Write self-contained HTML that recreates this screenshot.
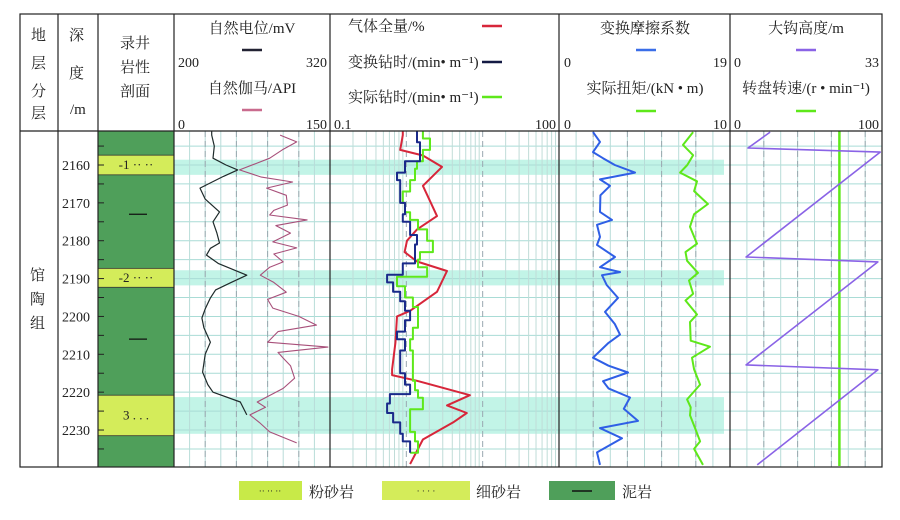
<!DOCTYPE html>
<html><head><meta charset="utf-8">
<style>
html,body{margin:0;padding:0;background:#fff;}
body{width:900px;height:515px;overflow:hidden;font-family:"Liberation Serif","Noto Serif CJK SC","Noto Sans CJK SC",serif;}
svg text{font-family:"Liberation Serif","Noto Serif CJK SC","Noto Sans CJK SC",serif;fill:#222;}
</style></head>
<body>
<svg id="chart" width="900" height="515" xmlns="http://www.w3.org/2000/svg">
<g id="bg"></g>
<g id="grid"></g>
<g id="curves"></g>
<g id="frame" stroke="#222" stroke-width="1.2" fill="none">
  <rect x="20" y="14" width="862" height="453"/>
  <line x1="20" y1="131" x2="882" y2="131"/>
  <line x1="58" y1="14" x2="58" y2="467"/>
  <line x1="98" y1="14" x2="98" y2="467"/>
  <line x1="174" y1="14" x2="174" y2="467"/>
  <line x1="330" y1="14" x2="330" y2="467"/>
  <line x1="559" y1="14" x2="559" y2="467"/>
  <line x1="730" y1="14" x2="730" y2="467"/>
</g>
<g id="header" font-size="15">
  <g><text x="31" y="40">地</text><text x="31" y="68">层</text><text x="31" y="96">分</text><text x="31" y="118">层</text></g>
  <g><text x="69" y="40">深</text><text x="69" y="78">度</text><text x="70" y="114">/m</text></g>
  <g><text x="120" y="48">录井</text><text x="120" y="72">岩性</text><text x="120" y="96">剖面</text></g>
  <g>
    <text x="252" y="33" text-anchor="middle">自然电位/mV</text>
    <line x1="242" y1="50" x2="262" y2="50" stroke="#223" stroke-width="2.5"/>
    <text x="178" y="67" font-size="14">200</text><text x="327" y="67" font-size="14" text-anchor="end">320</text>
    <text x="252" y="93" text-anchor="middle">自然伽马/API</text>
    <line x1="242" y1="110" x2="262" y2="110" stroke="#c96b8e" stroke-width="2.5"/>
    <text x="178" y="129" font-size="14">0</text><text x="327" y="129" font-size="14" text-anchor="end">150</text>
  </g>
  <g>
    <text x="348" y="31">气体全量/%</text>
    <line x1="482" y1="26" x2="502" y2="26" stroke="#d7263a" stroke-width="2.5"/>
    <text x="348" y="67">变换钻时/(min• m⁻¹)</text>
    <line x1="482" y1="62" x2="502" y2="62" stroke="#141a44" stroke-width="2.5"/>
    <text x="348" y="102">实际钻时/(min• m⁻¹)</text>
    <line x1="482" y1="97" x2="502" y2="97" stroke="#5ee81a" stroke-width="2.5"/>
    <text x="334" y="129" font-size="14">0.1</text><text x="556" y="129" font-size="14" text-anchor="end">100</text>
  </g>
  <g>
    <text x="645" y="33" text-anchor="middle">变换摩擦系数</text>
    <line x1="636" y1="50" x2="656" y2="50" stroke="#3a6ee8" stroke-width="2.5"/>
    <text x="564" y="67" font-size="14">0</text><text x="727" y="67" font-size="14" text-anchor="end">19</text>
    <text x="645" y="93" text-anchor="middle">实际扭矩/(kN • m)</text>
    <line x1="636" y1="111" x2="656" y2="111" stroke="#5ee81a" stroke-width="2.5"/>
    <text x="564" y="129" font-size="14">0</text><text x="727" y="129" font-size="14" text-anchor="end">10</text>
  </g>
  <g>
    <text x="806" y="33" text-anchor="middle">大钩高度/m</text>
    <line x1="796" y1="50" x2="816" y2="50" stroke="#8a63e6" stroke-width="2.5"/>
    <text x="734" y="67" font-size="14">0</text><text x="879" y="67" font-size="14" text-anchor="end">33</text>
    <text x="806" y="93" text-anchor="middle">转盘转速/(r • min⁻¹)</text>
    <line x1="796" y1="111" x2="816" y2="111" stroke="#5ee81a" stroke-width="2.5"/>
    <text x="734" y="129" font-size="14">0</text><text x="879" y="129" font-size="14" text-anchor="end">100</text>
  </g>
</g>
<g font-size="15"><text x="30" y="280">馆</text><text x="30" y="304">陶</text><text x="30" y="328">组</text></g>
<g id="depthlabels" font-size="14"></g>
<g id="legend" font-size="15">
  <g><rect x="239" y="481" width="63" height="19" fill="#c8ea48"/><text x="270" y="494" text-anchor="middle" font-size="9">·· ·· ··</text><text x="309" y="497">粉砂岩</text></g>
  <g><rect x="382" y="481" width="88" height="19" fill="#d4ec5a"/><text x="426" y="494" text-anchor="middle" font-size="9">· · · ·</text><text x="476" y="497">细砂岩</text></g>
  <g><rect x="549" y="481" width="66" height="19" fill="#4f9f5a"/><line x1="572" y1="491" x2="592" y2="491" stroke="#111" stroke-width="1.5"/><text x="622" y="497">泥岩</text></g>
</g>
</svg>
<script>
// ---- data ----
const spDepth=[2151,2152.1,2155,2158.2,2160,2161.3,2163,2166.1,2169,2172.4,2175,2178,2180.6,2182,2183.8,2186,2189.1,2191,2193,2195.1,2198,2200.4,2203,2206.8,2210,2214.7,2218,2220,2222.6,2226];
const spVal=[229,229,231,230,240,249,238,220,224,235,230,233,235,228,225,234,256,244,232,228,224,221.5,223,228,224,222,226,230,251,256];
const grDepth=[2152.1,2153.9,2156,2158.2,2161.3,2163.2,2164.5,2166.1,2168,2170.6,2172,2173.2,2174.5,2176,2178,2180.3,2181.9,2183.5,2185.6,2187,2189.1,2191,2193.6,2195.5,2197.8,2200,2202.3,2204,2206.8,2208.1,2209.5,2211,2213,2216.3,2219,2222.6,2224,2226,2228,2230.5,2233.4];
const grVal=[102,118,104,92,63,84,114,89,108,109,96,92,128,98,112,95,118,96,105,92,83,96,108,90,95,120,137,100,90,148,100,105,112,116,105,80,88,73,82,92,118];
const gasDepth=[2151,2152.1,2156,2157.5,2160.5,2165.5,2170,2173.5,2177,2180,2183,2185.5,2188,2193.5,2198.5,2200,2207,2211,2214,2215.5,2217,2220.8,2223.5,2225.5,2228,2232.5,2239];
const gasVal=[0.9,0.9,0.83,1.65,2.93,1.65,2.1,2.52,1.38,1.02,0.95,1.38,3.41,2.52,1.12,0.755,0.72,0.68,0.65,0.65,1.38,6.8,3.41,6.2,4.1,1.65,1.12];
const bitDepth=[2151,2154,2156.5,2159,2162,2164,2167,2170,2173,2175,2178.5,2181,2184,2186,2189,2191,2193.5,2196,2198.5,2201,2204,2206,2209,2212,2215,2218,2220.5,2223,2225.5,2228,2231,2233,2236];
const bitVal=[1.38,1.51,1.51,0.96,0.755,0.83,0.83,0.96,0.9,1.12,1.38,1.3,1.3,0.9,0.56,0.67,0.83,0.96,1.12,0.96,0.755,0.96,0.83,0.83,0.96,1.12,0.61,0.56,0.67,0.83,0.9,1.12,1.12];
const actDepth=[2151,2153,2156,2159,2161,2164,2167,2170,2172.5,2174.5,2177,2180,2183,2185,2187,2189.5,2192,2195,2197.5,2200,2203,2206,2209,2213,2217,2219.5,2221.5,2224.5,2228,2230.5,2233,2236];
const actVal=[1.65,2.04,1.65,1.38,1.3,1.12,0.9,0.96,1.12,1.42,1.87,2.23,1.51,1.42,1.87,0.755,0.96,1.22,1.42,1.42,1.22,1.12,1.22,1.22,1.3,1.42,1.65,1.12,1.12,1.3,1.42,1.12];
const fricDepth=[2151.3,2153.9,2156.6,2158.2,2160,2162,2163.8,2165.5,2168,2172.4,2174.5,2175.8,2179,2181.1,2184.3,2187,2188.3,2189.1,2191.7,2195.1,2198.8,2202,2204.8,2207,2210.9,2213,2214.8,2217.1,2219,2221.4,2224.4,2227.6,2229.5,2232.2,2235.9,2239.2];
const fricVal=[3.78,4.56,3.78,4.89,6.2,8.44,4.56,5.67,4.6,4.56,5.89,4.22,4.56,4.22,6.22,4.56,6.78,4.78,5.3,6.56,5.11,6.2,6.78,5.5,3.78,5.5,7.67,4.89,5.5,7.89,7.2,8.78,4.56,7.0,4.22,4.56];
const torqDepth=[2151.3,2154.7,2157.4,2160,2162,2164.3,2166.9,2170.3,2173,2176.3,2180.8,2183,2185.3,2188.5,2190.5,2194,2195.8,2199.5,2201.5,2206.4,2208,2210.9,2214,2218,2221.9,2224,2226.1,2230,2233,2235,2239.2];
const torqVal=[7.84,7.25,7.84,7.5,7.08,8.07,7.9,8.71,7.9,7.66,8.07,7.4,7.49,8.13,7.6,7.84,7.4,8.07,7.66,7.7,8.83,7.78,7.9,8.25,7.49,7.7,7.66,8.0,8.25,7.9,8.42];
const hookDepth=[2151.3,2155.5,2156.6,2184.3,2185.6,2212.8,2214.1,2239.2];
const hookVal=[8.7,3.9,32.6,3.5,32.1,3.5,32.1,5.9];
const rpmDepth=[2151,2239.5];
const rpmVal=[72,72];
const depthTicks=[2160,2170,2180,2190,2200,2210,2220,2230];
const sandTop=[2157.4,2187.3,2220.8];
const sandBot=[2162.6,2192.3,2231.5];
const sandLabel=["-1 ··  ··","-2 ··  ··","3 . . ."];
const bandTop=[2158.6,2187.8,2221.3];
const bandBot=[2162.6,2191.8,2231];

// ---- scales ----
const Y0=131,Y1=467,PPM=3.786;
const y=d=>165+(d-2160)*PPM;
const lin=(a,b,v0,v1)=>v=>a+(v-v0)/(v1-v0)*(b-a);
const logS=(a,b,v0,v1)=>v=>a+Math.log10(v/v0)/Math.log10(v1/v0)*(b-a);
const xSP=lin(174,330,200,320), xGR=lin(174,330,0,150);
const xLog=logS(330,559,0.1,100);
const xFric=lin(559,730,0,19), xTorq=lin(559,730,0,10);
const xHook=lin(730,882,0,33), xRpm=lin(730,882,0,100);
const NS="http://www.w3.org/2000/svg";
function mk(tag,attrs,parent){const e=document.createElementNS(NS,tag);for(const k in attrs)e.setAttribute(k,attrs[k]);parent.appendChild(e);return e;}
const bg=document.getElementById('bg'),grid=document.getElementById('grid'),cv=document.getElementById('curves'),dl=document.getElementById('depthlabels');

for(let i=0;i<bandTop.length;i++){
  const r=mk('rect',{x:174,y:y(bandTop[i]),width:550,height:y(bandBot[i])-y(bandTop[i]),fill:'#aef0df',opacity:0.75},bg);
  
  
}
const gridH=[];for(let d=2155;d<=2235;d+=5)gridH.push(d);
gridH.forEach(d=>{
  const l=mk('line',{x1:174,x2:882,y1:y(d),y2:y(d),stroke:'#a9dcd6','stroke-width':1},grid);
  
  
});
function vlines(xs,col,dash){xs.forEach(x=>{const l=mk('line',{x1:x,x2:x,y1:Y0,y2:Y1,stroke:col,'stroke-width':1,'stroke-dasharray':dash||''},grid);
  
  });}
const v1=[];for(let i=1;i<10;i++)v1.push(174+i*15.6);vlines(v1,'#b8dcd8');
const v1b=[];for(let i=1;i<5;i++)v1b.push(174+i*31.2);vlines(v1b,'#9aa8b0','6,4');
const v2=[];[0.1,1,10].forEach(b=>{for(let k=2;k<=9;k++)v2.push(xLog(b*k));});vlines(v2,'#c0dcd8');
vlines([xLog(1),xLog(10)],'#9aa8b0','6,4');
const v3=[];for(let i=1;i<10;i++)v3.push(559+i*17.1);vlines(v3,'#b8dcd8');
vlines([559+34.2,559+68.4,559+102.6,559+136.8],'#9aa8b0','6,4');
const v4=[];for(let i=1;i<9;i++)v4.push(730+i*16.9);vlines(v4,'#b8dcd8');
vlines([730+33.8,730+67.6,730+101.4,730+135.2],'#9aa8b0','6,4');

const lc=mk('rect',{x:98,y:Y0,width:76,height:Y1-Y0,fill:'#4f9f5a'},bg);


for(let i=0;i<sandTop.length;i++){
  const r=mk('rect',{x:98,y:y(sandTop[i]),width:76,height:y(sandBot[i])-y(sandTop[i]),fill:'#d4ec5a',stroke:'#333','stroke-width':0.8},bg);
  
  
  const t=mk('text',{x:136,y:(y(sandTop[i])+y(sandBot[i]))/2+4,'text-anchor':'middle','font-size':13},bg);
  t.textContent=sandLabel[i];
  
  
}
[2173,2206].forEach(d=>{const l=mk('line',{x1:129,x2:147,y1:y(d),y2:y(d),stroke:'#111','stroke-width':1.2},bg);
  
  });
depthTicks.forEach(d=>{const t=mk('text',{x:76,y:y(d)+5,'text-anchor':'middle'},dl);t.textContent=d;
  
  });
for(let d=2155;d<=2235;d+=5){const l=mk('line',{x1:98,x2:104,y1:y(d),y2:y(d),stroke:'#222'},dl);
  
  }

function curve(ds,vs,xf,col,w,name,step){
  let p='';
  for(let i=0;i<ds.length;i++){
    const X=xf(vs[i]).toFixed(1),Yv=y(ds[i]).toFixed(1);
    if(i===0)p+='M'+X+','+Yv;
    else if(step)p+='V'+Yv+'H'+X;
    else p+='L'+X+','+Yv;
  }
  const e=mk('path',{d:p,fill:'none',stroke:col,'stroke-width':w,'stroke-linejoin':'round'},cv);
  
  
}
curve(spDepth,spVal,xSP,'#1e2a2a',1.2,'sp-curve');
curve(grDepth,grVal,xGR,'#a8507a',1.1,'gr-curve');
curve(gasDepth,gasVal,xLog,'#d7263a',2,'gas-total-curve');
curve(actDepth,actVal,xLog,'#5ee81a',2,'actual-drill-time-curve',true);
curve(bitDepth,bitVal,xLog,'#1a2a8a',2,'converted-drill-time-curve',true);
curve(fricDepth,fricVal,xFric,'#2f5fe6',2,'friction-coef-curve');
curve(torqDepth,torqVal,xTorq,'#5ee81a',2,'torque-curve');
curve(rpmDepth,rpmVal,xRpm,'#5ee81a',2.5,'rpm-curve');
curve(hookDepth,hookVal,xHook,'#8a63e6',1.6,'hook-height-curve');
</script>
</body></html>
